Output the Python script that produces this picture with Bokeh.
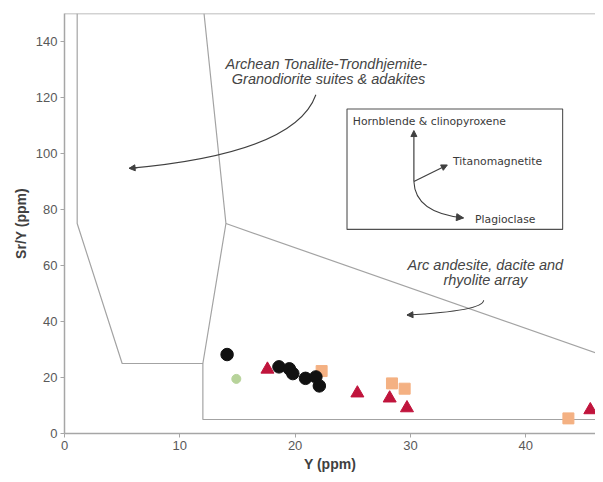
from bokeh.plotting import figure
from bokeh.models import Range1d, Span, Arrow, NormalHead, FixedTicker
from bokeh.core.properties import value
from bokeh.embed import file_html
from bokeh.resources import INLINE

# ---------------- data ----------------
black_x = [14.1, 18.6, 19.5, 19.8, 20.9, 21.8, 22.1]
black_y = [28.2, 23.8, 23.1, 21.4, 19.7, 20.2, 17.0]
green_x = [14.9]
green_y = [19.5]
square_x = [22.3, 28.4, 29.5, 43.7]
square_y = [22.3, 17.9, 16.0, 5.4]
tri_x = [17.6, 25.4, 28.2, 29.7, 45.6]
tri_y = [22.9, 14.4, 12.6, 9.1, 8.4]

ttg_x = [1.1, 1.1, 5.0, 12.0, 14.0, 12.1]
ttg_y = [150, 75, 25, 25, 75, 150]
arc_upper_x = [14.0, 48.0]
arc_upper_y = [75, 26]
arc_lower_x = [12.0, 12.0, 48.0]
arc_lower_y = [25, 5, 5]

x_ticks = [0, 10, 20, 30, 40]
y_ticks = [0, 20, 40, 60, 80, 100, 120, 140]

ttg_label = ["Archean Tonalite-Trondhjemite-", "Granodiorite suites & adakites"]
arc_label = ["Arc andesite, dacite and", "rhyolite array"]
inset_labels = ["Hornblende & clinopyroxene", "Titanomagnetite", "Plagioclase"]
x_title = "Y (ppm)"
y_title = "Sr/Y (ppm)"

# ---------------- figure ----------------
p = figure(width=595, height=474, output_backend="svg", toolbar_location=None,
           x_range=Range1d(0, 46.05), y_range=Range1d(0, 150),
           min_border_left=64, min_border_right=0, min_border_top=13, min_border_bottom=36)
p.outline_line_color = None
p.background_fill_color = "white"
p.border_fill_color = "white"
p.grid.visible = False

AX = "#a6a6a6"
for ax in (p.xaxis[0], p.yaxis[0]):
    ax.axis_line_color = AX
    ax.axis_line_width = 1.5
    ax.major_tick_line_color = AX
    ax.major_tick_out = 4
    ax.major_tick_in = 0
    ax.minor_tick_line_color = None
    ax.major_label_text_font = "Liberation Sans"
    ax.major_label_text_font_size = "13px"
    ax.major_label_text_color = "#595959"
    ax.axis_label_text_font = "Liberation Sans"
    ax.axis_label_text_font_size = "14px"
    ax.axis_label_text_font_style = "bold"
    ax.axis_label_text_color = "#404040"
    ax.major_label_standoff = 3
    ax.axis_label_standoff = 3
p.xaxis.ticker = FixedTicker(ticks=x_ticks)
p.yaxis.ticker = FixedTicker(ticks=y_ticks)
p.xaxis.axis_label = x_title
p.yaxis.axis_label = y_title
p.yaxis.axis_label_standoff = 4

p.add_layout(Span(location=150, dimension="width", line_color=AX, line_width=1.5))

# field boundaries
LC = "#a3a3a3"
p.line(ttg_x, ttg_y, line_color=LC, line_width=1.2)
p.line(arc_upper_x, arc_upper_y, line_color=LC, line_width=1.2)
p.line(arc_lower_x, arc_lower_y, line_color=LC, line_width=1.2)

# annotation text
TC = "#454545"
p.text([22.7, 22.9], [131.8, 126.5], text=ttg_label, text_font=value("Liberation Sans"),
       text_font_style="italic", text_font_size="14.5px", text_color=TC,
       text_align="center", text_baseline="middle")
p.text([36.5, 36.5], [60.1, 54.8], text=arc_label, text_font=value("Liberation Sans"),
       text_font_style="italic", text_font_size="14.5px", text_color=TC,
       text_align="center", text_baseline="middle")

AC = "#404040"
def curved_arrow(x0, y0, x1, y1, cx, cy, size=6):
    p.quadratic(x0=[x0], y0=[y0], x1=[x1], y1=[y1], cx=[cx], cy=[cy],
                line_color=AC, line_width=1.1)
    sx = x1 - 0.05 * (x1 - cx)
    sy = y1 - 0.05 * (y1 - cy)
    p.add_layout(Arrow(x_start=sx, y_start=sy, x_end=x1, y_end=y1,
                       line_color=AC, line_width=1.1,
                       end=NormalHead(size=size, fill_color=AC, line_color=AC)))

curved_arrow(21.8, 121.0, 5.6, 94.7, 20.0, 100.0)
curved_arrow(36.35, 47.6, 29.7, 42.3, 36.3, 43.8)

# inset box
p.quad(left=[24.5], right=[43.2], bottom=[72.9], top=[115.9], fill_color=None,
       line_color="#505050", line_width=1.1)
p.text([25.0, 33.7, 35.6], [111.4, 97.3, 76.4], text=inset_labels,
       text_font=value("DejaVu Sans"), text_font_size="10.8px", text_color="#3a3a3a",
       text_align="left", text_baseline="middle")
p.add_layout(Arrow(x_start=30.3, y_start=90.0, x_end=30.3, y_end=108.2,
                   line_color=AC, line_width=1.2,
                   end=NormalHead(size=6, fill_color=AC, line_color=AC)))
p.add_layout(Arrow(x_start=30.3, y_start=90.0, x_end=33.2, y_end=95.9,
                   line_color=AC, line_width=1.2,
                   end=NormalHead(size=6, fill_color=AC, line_color=AC)))
curved_arrow(30.3, 90.0, 34.6, 77.0, 30.4, 78.8, size=7)

# data points
p.scatter(green_x, green_y, marker="circle", size=9, fill_color="#b7d39a",
          line_color="#b7d39a")
p.scatter(square_x, square_y, marker="square", size=11, fill_color="#f4b183",
          line_color="#f4b183")
p.scatter(tri_x, tri_y, marker="triangle", size=13, fill_color="#c0143c",
          line_color="#c0143c")
p.scatter(black_x, black_y, marker="circle", size=12.5, fill_color="#111111",
          line_color="#111111")

open("out.html", "w").write(file_html(p, INLINE))
